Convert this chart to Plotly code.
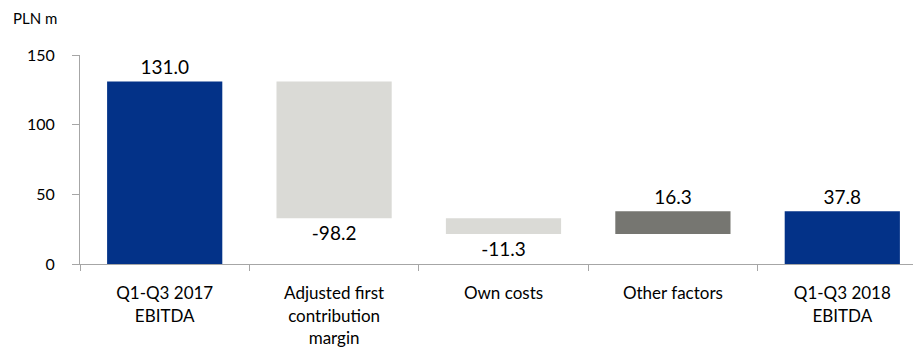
import plotly.graph_objects as go

categories = ["Q1-Q3 2017<br>EBITDA", "Adjusted first<br>contribution<br>margin",
              "Own costs", "Other factors", "Q1-Q3 2018<br>EBITDA"]
measures = ["absolute", "relative", "relative", "relative", "total"]
values = [131.0, -98.2, -11.3, 16.3, 37.8]
y_ticks = [0, 50, 100, 150]

BLUE = "#033288"
LIGHT = "#DADAD6"
DARK = "#767671"

# compute bases from running totals
bases, heights, colors = [], [], []
running = 0.0
for m, v in zip(measures, values):
    if m == "absolute":
        bases.append(0.0); heights.append(v); running = v; colors.append(BLUE)
    elif m == "total":
        bases.append(0.0); heights.append(running); colors.append(BLUE)
    else:
        bases.append(running); heights.append(v); running += v
        colors.append(LIGHT if v < 0 else DARK)

texts = [f"{v:.1f}" for v in values]

fig = go.Figure(go.Bar(
    x=categories, y=heights, base=bases,
    marker=dict(color=colors, line=dict(width=0)),
    width=0.68,
    text=texts, textposition="outside", cliponaxis=False,
    textfont=dict(family="Lato", size=19, color="#000000"),
    hoverinfo="skip",
))

fig.update_layout(
    width=921, height=363,
    margin=dict(l=72, r=2, t=47, b=107, autoexpand=False),
    plot_bgcolor="white", paper_bgcolor="white",
    showlegend=False,
    font=dict(family="Lato", color="#000000"),
    annotations=[dict(text="PLN m", xref="paper", yref="paper",
                      x=-0.0815, y=1.177, xanchor="left", yanchor="middle",
                      showarrow=False, font=dict(family="Lato", size=15))],
)
fig.update_xaxes(
    range=[-0.5, 4.5], automargin=False,
    showline=True, linecolor="#A6A6A6", linewidth=1,
    ticks="outside", tickson="boundaries", ticklen=6, tickcolor="#A6A6A6",
    tickfont=dict(family="Lato", size=17), ticklabelstandoff=14,
    showgrid=False,
)
fig.update_yaxes(
    range=[0, 150], tickvals=y_ticks, automargin=False,
    showline=True, linecolor="#A6A6A6", linewidth=1,
    ticks="outside", ticklen=7, tickcolor="#A6A6A6",
    tickfont=dict(family="Lato", size=16), ticklabelstandoff=14,
    showgrid=False, zeroline=False,
)

fig.write_html("out.html")
